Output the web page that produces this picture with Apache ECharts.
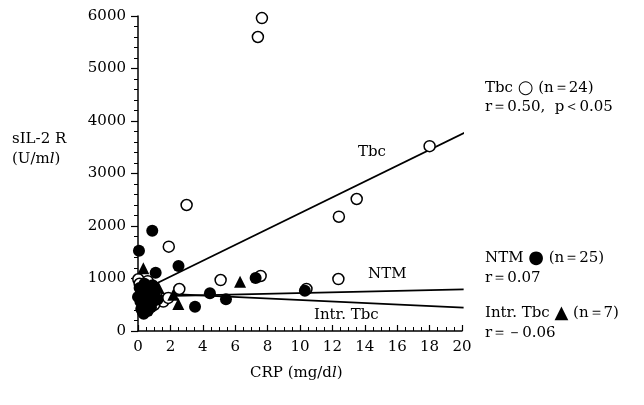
<!DOCTYPE html>
<html><head><meta charset="utf-8">
<script src="https://cdn.jsdelivr.net/npm/echarts@6/dist/echarts.min.js"></script>
<style>html,body{margin:0;padding:0;background:#fff}#c{width:644px;height:405px}</style>
</head><body><div id="c"></div>
<script>
// Tbc (open circles)
const tbcCRP   = [7.4, 7.65, 18.0, 13.5, 12.4, 3.0, 1.9, 5.1, 7.57, 12.37, 10.4, 2.55, 1.56, 1.87, 0.02, 0.1, 0.2, 0.5, 0.8, 1.1, 0.3, 1.0, 0.6, 0.9];
const tbcSIL2R = [5600, 5960, 3520, 2514, 2177, 2400, 1606, 971, 1048, 990, 800, 800, 560, 630, 985, 900, 780, 700, 620, 690, 560, 500, 950, 560];
// NTM (filled circles)
const ntmCRP   = [0.88, 0.06, 2.5, 1.09, 7.26, 4.44, 5.43, 3.52, 10.3, 0.29, 0.0, 0.1, 0.15, 0.2, 0.3, 0.4, 0.5, 0.55, 0.7, 0.8, 0.9, 1.0, 1.2, 0.35, 0.6];
const ntmSIL2R = [1910, 1530, 1238, 1110, 1010, 718, 603, 463, 768, 368, 650, 820, 560, 420, 720, 900, 520, 780, 640, 450, 870, 700, 600, 330, 380];
// Intr. Tbc (triangles)
const intrCRP   = [0.33, 0.25, 1.26, 2.18, 2.49, 6.3, 0.5];
const intrSIL2R = [1194, 860, 830, 690, 514, 940, 620];
// regression lines (end points)
const tbcLineX = [0.94, 20.9],  tbcLineY = [875, 3891];
const ntmLineX = [0.9, 20.1],   ntmLineY = [660, 792];
const intrLineX = [0.9, 20.1],  intrLineY = [720, 444];
// axis ticks
const xTicks = [0, 2, 4, 6, 8, 10, 12, 14, 16, 18, 20];
const yTicks = [0, 1000, 2000, 3000, 4000, 5000, 6000];

const zip = (a, b) => a.map((v, i) => [v, b[i]]);
const F = 'DejaVu Serif';
const chart = echarts.init(document.getElementById('c'));
const lineSeries = (xs, ys) => ({
  type: 'line', data: zip(xs, ys), symbol: 'none', clip: false, z: 1,
  lineStyle: {color: '#000', width: 1.8}, silent: true, animation: false
});
const txt = (x, y, text, rich, extra) => Object.assign({
  type: 'text', left: x, top: y,
  style: {text: text, font: '15px "' + F + '"', fill: '#000', rich: rich || {}}
}, extra || {});
const rich = {
  it: {fontStyle: 'italic', fontFamily: F, fontSize: 15},
  sym: {fontSize: 18, fontFamily: 'DejaVu Sans'}
};
chart.setOption({
  animation: false,
  backgroundColor: '#fff',
  grid: {left: 138, right: 182, top: 16, bottom: 74},
  xAxis: {
    type: 'value', min: xTicks[0], max: xTicks[xTicks.length - 1], interval: 2,
    axisLine: {onZero: false, lineStyle: {color: '#000', width: 1.5}},
    axisTick: {inside: true, length: 6, lineStyle: {color: '#000', width: 1.2}},
    minorTick: {show: true, splitNumber: 4, length: 4, lineStyle: {color: '#000', width: 1}},
    splitLine: {show: false},
    axisLabel: {color: '#000', fontFamily: F, fontSize: 15, margin: 9, formatter: v => String(v)}
  },
  yAxis: {
    type: 'value', min: yTicks[0], max: yTicks[yTicks.length - 1], interval: 1000,
    axisLine: {show: true, onZero: false, lineStyle: {color: '#000', width: 1.5}},
    axisTick: {show: true, inside: false, length: 7, lineStyle: {color: '#000', width: 1.2}},
    minorTick: {show: true, splitNumber: 5, length: 4, lineStyle: {color: '#000', width: 1}},
    splitLine: {show: false},
    axisLabel: {color: '#000', fontFamily: F, fontSize: 15, margin: 12, formatter: v => String(v)}
  },
  series: [
    lineSeries(tbcLineX, tbcLineY),
    lineSeries(ntmLineX, ntmLineY),
    lineSeries(intrLineX, intrLineY),
    {type: 'scatter', data: zip(tbcCRP, tbcSIL2R), symbol: 'circle', symbolSize: 11, z: 3,
     itemStyle: {color: '#fff', borderColor: '#000', borderWidth: 1.5, opacity: 1}},
    {type: 'scatter', data: zip(ntmCRP, ntmSIL2R), symbol: 'circle', symbolSize: 12, z: 4,
     itemStyle: {color: '#000', opacity: 1}},
    {type: 'scatter', data: zip(intrCRP, intrSIL2R), symbol: 'triangle', symbolSize: 12, z: 5,
     itemStyle: {color: '#000', opacity: 1}}
  ],
  graphic: [
    txt(12, 132, 'sIL-2 R'),
    txt(12, 152, '(U/m{it|l})', rich),
    txt(250, 366, 'CRP (mg/d{it|l})', rich),
    txt(358, 145, 'Tbc'),
    txt(368, 267, 'NTM'),
    txt(314, 308, 'Intr. Tbc'),
    txt(485, 79, 'Tbc {sym|○} (n＝24)', rich),
    txt(485, 100, 'r＝0.50,  p＜0.05'),
    txt(485, 249, 'NTM {sym|●} (n＝25)', rich),
    txt(485, 271, 'r＝0.07'),
    txt(485, 304, 'Intr. Tbc {sym|▲} (n＝7)', rich),
    txt(485, 326, 'r＝－0.06')
  ]
});
</script></body></html>
